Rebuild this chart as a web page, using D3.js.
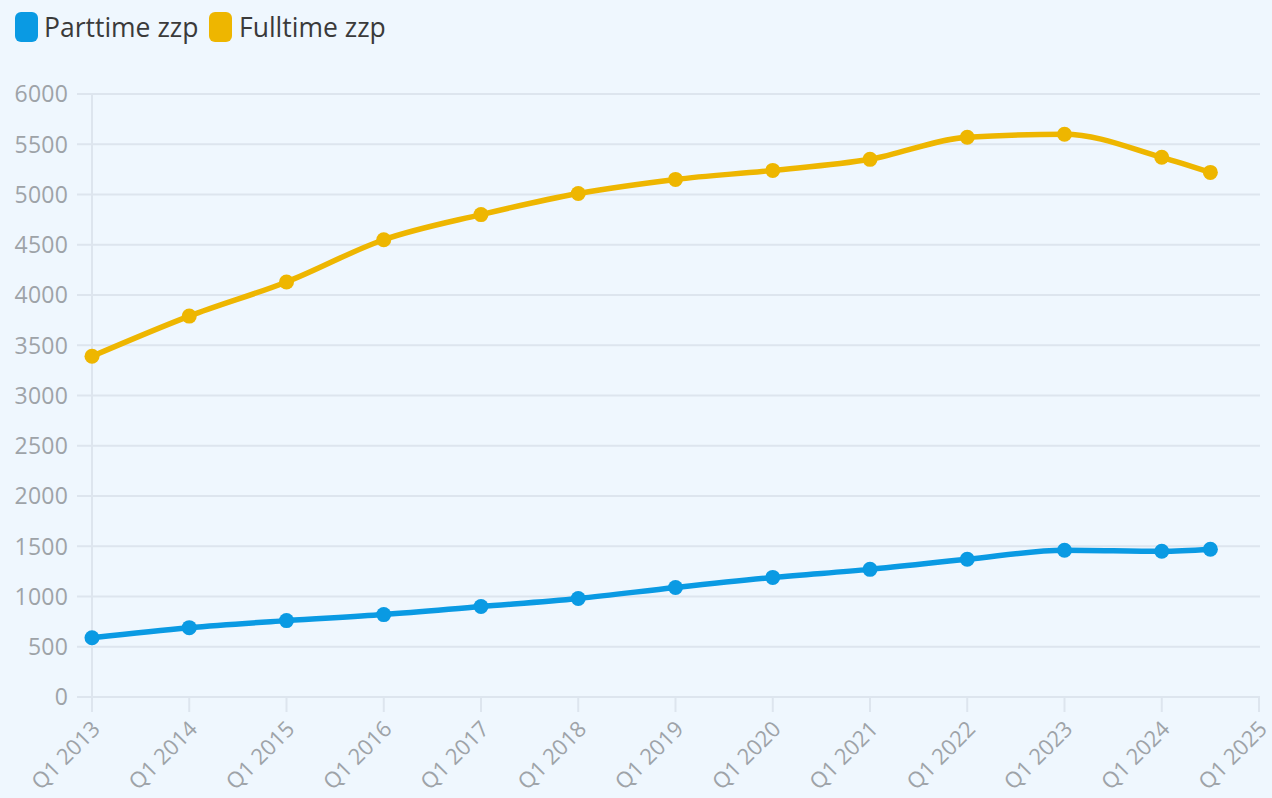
<!DOCTYPE html>
<html><head><meta charset="utf-8">
<script src="https://cdn.jsdelivr.net/npm/d3@7"></script>
<style>
html,body{margin:0;padding:0;background:#eff7fe;}
svg{display:block;font-family:"Source Sans Pro","Open Sans","Noto Sans",sans-serif;}
</style></head><body>
<svg id="c" width="1272" height="798"></svg>
<script>
const periods = [2013, 2014, 2015, 2016, 2017, 2018, 2019, 2020, 2021, 2022, 2023, 2024, 2024.5];
const parttime = [590, 690, 760, 820, 900, 980, 1090, 1190, 1270, 1370, 1460, 1450, 1470];
const fulltime = [3390, 3790, 4130, 4550, 4800, 5010, 5150, 5240, 5350, 5570, 5600, 5370, 5220];
const xTicks = [2013,2014,2015,2016,2017,2018,2019,2020,2021,2022,2023,2024,2025];
const yTicks = [0,500,1000,1500,2000,2500,3000,3500,4000,4500,5000,5500,6000];
const seriesNames = ["Parttime zzp", "Fulltime zzp"];
const colors = ["#0a9ae3", "#eeb600"];

const svg = d3.select("#c");
const x = d3.scaleLinear().domain([2013, 2025]).range([92, 1259]);
const y = d3.scaleLinear().domain([0, 6000]).range([697, 94]);
const grid = "#dde5ee", labelColor = "#9ea3a8";

svg.append("g").selectAll("line").data(yTicks).join("line")
  .attr("x1", 77).attr("x2", 1260)
  .attr("y1", d => y(d)).attr("y2", d => y(d))
  .attr("stroke", grid).attr("stroke-width", 2);
svg.append("line").attr("x1", 92).attr("x2", 92).attr("y1", 94).attr("y2", 712)
  .attr("stroke", grid).attr("stroke-width", 2);
svg.append("g").selectAll("text").data(yTicks).join("text")
  .attr("x", 68).attr("y", d => y(d)).attr("dy", "0.36em")
  .attr("text-anchor", "end").attr("fill", labelColor).attr("font-size", 23)
  .attr("letter-spacing", "0.2")
  .text(d => d);
svg.append("g").selectAll("line").data(xTicks).join("line")
  .attr("x1", d => x(d)).attr("x2", d => x(d)).attr("y1", 697).attr("y2", 712)
  .attr("stroke", grid).attr("stroke-width", 2);
svg.append("g").selectAll("text").data(xTicks).join("text")
  .attr("transform", d => `translate(${x(d)+4},${725}) rotate(-45)`)
  .attr("text-anchor", "end").attr("dy", "0.35em")
  .attr("fill", labelColor).attr("font-size", 22)
  .text(d => "Q1 " + d);

const line = d3.line().x(d => x(d[0])).y(d => y(d[1])).curve(d3.curveMonotoneX);
[parttime, fulltime].forEach((vals, i) => {
  const pts = periods.map((p, j) => [p, vals[j]]);
  svg.append("path").datum(pts).attr("d", line).attr("fill", "none")
    .attr("stroke", colors[i]).attr("stroke-width", 5.5).attr("stroke-linecap", "round");
  svg.append("g").selectAll("circle").data(pts).join("circle")
    .attr("cx", d => x(d[0])).attr("cy", d => y(d[1])).attr("r", 7.5)
    .attr("fill", colors[i]);
});

const leg = [{x: 15, tx: 44}, {x: 209, tx: 239}];
seriesNames.forEach((n, i) => {
  svg.append("rect").attr("x", leg[i].x).attr("y", 12).attr("width", 23).attr("height", 30)
    .attr("rx", 6).attr("fill", colors[i]);
  svg.append("text").attr("x", leg[i].tx).attr("y", 37).attr("font-size", 26.5)
    .attr("fill", "#3a3a3a").text(n);
});
</script></body></html>
